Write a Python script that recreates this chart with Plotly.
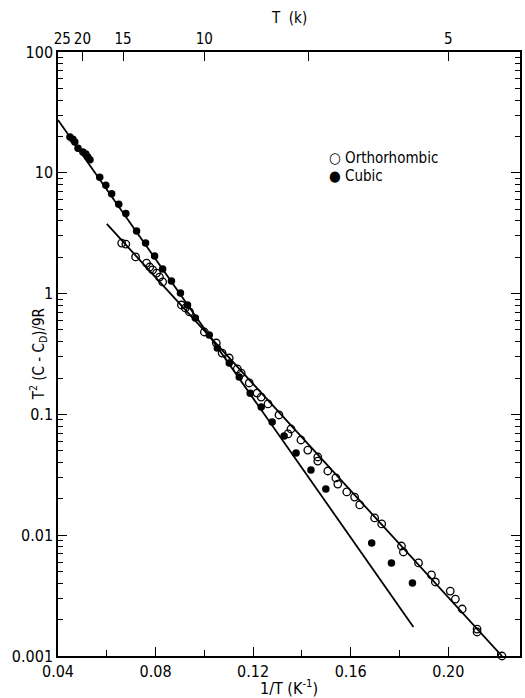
import plotly.graph_objects as go

# Cubic (filled) data: x = 1/T (K^-1), y = T^2 (C - C_D)/9R
cubic_x = [0.0449, 0.0461, 0.0469, 0.0482, 0.0502, 0.0514, 0.0522, 0.0531,
           0.0571, 0.0596, 0.0620, 0.0649, 0.0678, 0.0722, 0.0759, 0.0796,
           0.0829, 0.0865, 0.0902, 0.0931, 0.0963, 0.1020, 0.1053, 0.1102,
           0.1143, 0.1188, 0.1233, 0.1278, 0.1327, 0.1376, 0.1437, 0.1498,
           0.1686, 0.1767, 0.1853]
cubic_y = [19.8, 19.0, 18.0, 16.0, 14.9, 14.3, 13.5, 12.8,
           9.2, 7.9, 6.7, 5.5, 4.6, 3.3, 2.62, 2.05,
           1.60, 1.27, 1.01, 0.805, 0.628, 0.454, 0.355, 0.266,
           0.204, 0.150, 0.115, 0.0865, 0.0663, 0.0479, 0.0347, 0.0241,
           0.0086, 0.00589, 0.00402]

# Orthorhombic (open) data
ortho_x = [0.0661, 0.0678, 0.0718, 0.0763, 0.0776, 0.0788, 0.0804, 0.0816,
           0.0829, 0.0906, 0.0922, 0.0939, 0.1000, 0.1049, 0.1073, 0.1102,
           0.1135, 0.1151, 0.1184, 0.1216, 0.1233, 0.1261, 0.1306, 0.1355,
           0.1343, 0.1396, 0.1424, 0.1465, 0.1465, 0.1506, 0.1539, 0.1547,
           0.1584, 0.1616, 0.1637, 0.1698, 0.1727, 0.1808, 0.1816, 0.1878,
           0.1931, 0.1947, 0.2008, 0.2029, 0.2057, 0.2118, 0.2118, 0.2220]
ortho_y = [2.62, 2.57, 2.01, 1.79, 1.66, 1.57, 1.48, 1.37,
           1.25, 0.805, 0.760, 0.705, 0.481, 0.390, 0.322, 0.293,
           0.238, 0.220, 0.182, 0.150, 0.139, 0.122, 0.0989, 0.0757,
           0.0689, 0.0614, 0.0507, 0.0444, 0.0411, 0.0340, 0.0298, 0.0265,
           0.0228, 0.0207, 0.0178, 0.0139, 0.0124, 0.00814, 0.00726, 0.00589,
           0.00469, 0.00410, 0.00345, 0.00296, 0.00245, 0.00167, 0.00158, 0.00100]

# Fitted straight lines (endpoints)
cubic_fit_x = [0.0400, 0.1857]
cubic_fit_y = [27.4, 0.00174]
ortho_fit_x = [0.0600, 0.2220]
ortho_fit_y = [3.77, 0.00100]

# Axis ticks
x_tickvals = [0.04, 0.08, 0.12, 0.16, 0.20]
x_ticktext = ["0.04", "0.08", "0.12", "0.16", "0.20"]
x_minorvals = [0.06, 0.10, 0.14, 0.18, 0.22]
y_tickvals = [0.001, 0.01, 0.1, 1, 10, 100]
y_ticktext = ["0.001", "0.01", "0.1", "1", "10", "100"]
top_T = [25, 20, 15, 10, 7, 5]
top_text = ["\u00a0\u00a025", "20", "15", "10", "", "5"]
legend_labels = ["○ Orthorhombic", "● Cubic"]

FONT = "DejaVu Sans Condensed, Liberation Sans Narrow, DejaVu Sans, sans-serif"

fig = go.Figure()
fig.add_trace(go.Scatter(x=cubic_fit_x, y=cubic_fit_y, mode="lines",
                         line=dict(color="black", width=1.8), showlegend=False))
fig.add_trace(go.Scatter(x=ortho_fit_x, y=ortho_fit_y, mode="lines",
                         line=dict(color="black", width=1.8), showlegend=False))
fig.add_trace(go.Scatter(x=ortho_x, y=ortho_y, mode="markers", name="Orthorhombic",
                         marker=dict(symbol="circle-open", size=7.5, color="black",
                                     line=dict(width=1.3, color="black")),
                         cliponaxis=False, showlegend=False))
fig.add_trace(go.Scatter(x=cubic_x, y=cubic_y, mode="markers", name="Cubic",
                         marker=dict(symbol="circle", size=7.5, color="black"),
                         cliponaxis=False, showlegend=False))
# invisible trace to anchor top axis
fig.add_trace(go.Scatter(x=[1 / t for t in top_T], y=[1] * len(top_T), xaxis="x2",
                         mode="markers", marker=dict(opacity=0), showlegend=False,
                         hoverinfo="skip"))

XR = [0.04, 0.2294]
fig.update_layout(
    width=525, height=698,
    margin=dict(l=58, r=3, t=52, b=42),
    paper_bgcolor="white", plot_bgcolor="white",
    font=dict(family=FONT, size=15, color="black"),
    showlegend=False,
    xaxis=dict(range=XR, showgrid=False, zeroline=False, showline=True,
               linecolor="black", linewidth=1.5, ticks="inside", ticklen=9,
               tickwidth=1.3, tickcolor="black",
               tickvals=x_tickvals, ticktext=x_ticktext,
               tickfont=dict(size=16),
               minor=dict(tickvals=x_minorvals, ticks="inside",
                          ticklen=6, tickwidth=1.2, tickcolor="black")),
    xaxis2=dict(range=XR, overlaying="x", side="top", showgrid=False,
                zeroline=False, showline=True, linecolor="black", linewidth=1.5,
                ticks="inside", ticklen=9, tickwidth=1.3, tickcolor="black",
                tickvals=[1 / t for t in top_T], ticktext=top_text,
                tickfont=dict(size=15)),
    yaxis=dict(type="log", range=[-3, 2], showgrid=False, zeroline=False,
               showline=True, linecolor="black", linewidth=1.5, mirror="ticks",
               ticks="inside", ticklen=9, tickwidth=1.3, tickcolor="black",
               tickvals=y_tickvals, ticktext=y_ticktext,
               tickfont=dict(size=16),
               minor=dict(ticks="inside", ticklen=5, tickwidth=1, tickcolor="black",
                          dtick="D1", showgrid=False)),
)

# legend drawn as typed text, like the original
for i, lab in enumerate(legend_labels):
    fig.add_annotation(text=lab, xref="paper", yref="paper",
                       x=(328 - 58) / 464, y=1 - (158 + 18 * i - 52) / 604,
                       xanchor="left", yanchor="middle", showarrow=False,
                       font=dict(size=15))

fig.add_annotation(text="1/T (K<sup>-1</sup>)", xref="paper", yref="paper",
                   x=0.5, y=0, yshift=-31, showarrow=False, yanchor="middle",
                   font=dict(size=16))
fig.add_annotation(text="T  (k)", xref="paper", yref="paper",
                   x=0.5, y=1, yshift=34, showarrow=False, yanchor="middle",
                   font=dict(size=15))
fig.add_annotation(text="T<sup>2</sup> (C - C<sub>D</sub>)/9R", xref="paper", yref="paper",
                   x=-0.045, y=0.5, showarrow=False, textangle=-90,
                   xanchor="center", yanchor="middle", font=dict(size=15))

fig.write_html("out.html",
               config={"displayModeBar": False},
               post_script="document.body.style.margin='0';"
                           "document.body.style.overflow='hidden';")
